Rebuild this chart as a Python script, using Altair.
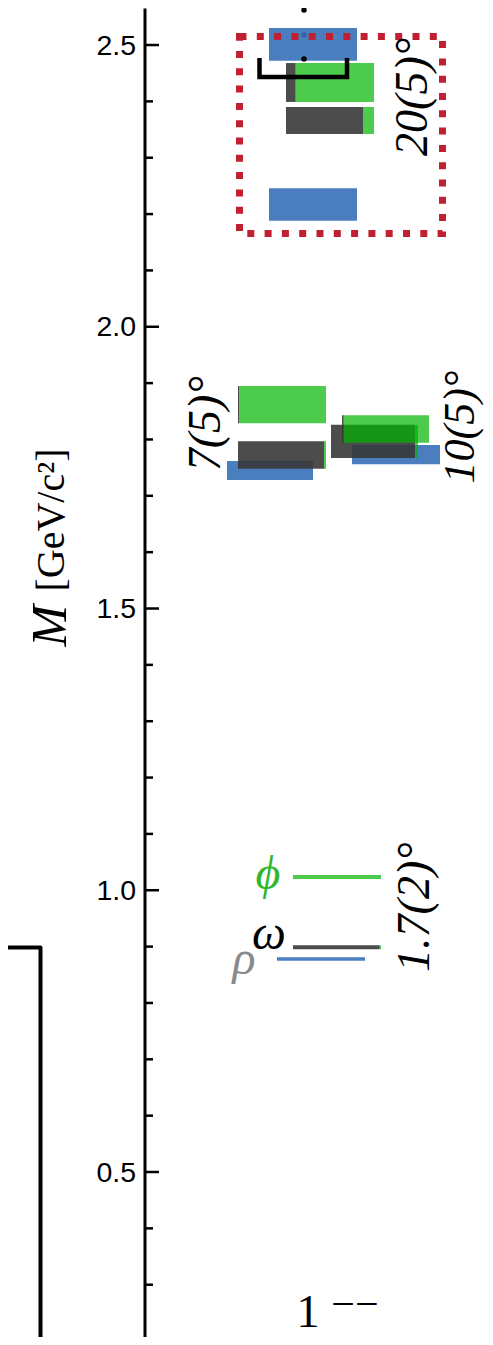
import altair as alt
import pandas as pd

# ---------------- axis / layout data ----------------
M_DOMAIN = [0.2072, 2.5657]          # visible mass range, GeV/c^2
X_DOMAIN = [144.5, 485.0]            # horizontal layout coordinate (axis at left edge)
MAJOR = [0.5, 1.0, 1.5, 2.0, 2.5]
MINOR = [0.3, 0.4, 0.6, 0.7, 0.8, 0.9, 1.1, 1.2, 1.3, 1.4,
         1.6, 1.7, 1.8, 1.9, 2.1, 2.2, 2.3, 2.4]

# isovector (rho-like) excited states: mass bands
iv_x0 = [269, 269, 227, 352]
iv_x1 = [357, 357, 313, 440]
iv_lo = [2.472, 2.188, 1.728, 1.756]
iv_hi = [2.530, 2.246, 1.762, 1.790]

# isoscalar excited states: mass bands + light-quark (omega-like) fraction
is_x0 = [286, 286, 238, 238, 331, 342]
is_x1 = [374, 374, 326, 326, 418, 429]
is_lo = [2.399, 2.342, 1.829, 1.748, 1.767, 1.794]
is_hi = [2.468, 2.390, 1.895, 1.797, 1.826, 1.843]
is_light = [0.11, 0.875, 0.015, 0.977, 0.966, 0.02]

# ground states: rho (isovector), omega and phi (isoscalar)
rho_x0, rho_x1, rho_m = [277], [365], [0.878]
gs_x0 = [293, 293]
gs_x1 = [381, 381]
gs_m = [0.899, 1.0235]
gs_light = [0.985, 0.0]

# highlighted region, bracket and dots
box_x0, box_x1, box_lo, box_hi = [239.5], [442.5], [2.1655], [2.5151]
brk_x = [259.5, 259.5, 347.0, 347.0]
brk_m = [2.4769, 2.4432, 2.4432, 2.4769]
dot_x = [304, 304, 304]
dot_m = [2.562, 2.518, 2.475]
dot_front = [True, False, True]
lbrk_x = [-20, 40.5, 40.5]
lbrk_m = [0.8984, 0.8984, 0.10]

# labels
ang_text = ["20(5)°", "7(5)°", "10(5)°", "1.7(2)°"]
ang_x = [413, 206, 461, 415]
ang_m = [2.408, 1.828, 1.822, 0.970]
ang_size = [46, 46, 44, 46]
name_text = ["ϕ", "ω", "ρ"]
name_x = [268, 269, 244]
name_m = [1.027, 0.921, 0.876]
name_color = ["#2fb82f", "#000000", "#8a8a8a"]

BLUE, GRAY, GREEN = "#3670b8", "#383838", "#00b500"
SERIF = "Liberation Serif"

xs = alt.Scale(domain=X_DOMAIN, nice=False, zero=False)
ys = alt.Scale(domain=M_DOMAIN, nice=False, zero=False)

# ---------------- tables ----------------
iv = pd.DataFrame({"x0": iv_x0, "x1": iv_x1, "lo": iv_lo, "hi": iv_hi})
rows_l, rows_s = [], []
for x0, x1, lo, hi, f in zip(is_x0, is_x1, is_lo, is_hi, is_light):
    xm = x0 + f * (x1 - x0)
    rows_l.append({"x0": x0, "x1": xm, "lo": lo, "hi": hi})
    rows_s.append({"x0": xm, "x1": x1, "lo": lo, "hi": hi})
isl = pd.DataFrame(rows_l)
iss = pd.DataFrame(rows_s)

gl, gsr = [], []
for x0, x1, m, f in zip(gs_x0, gs_x1, gs_m, gs_light):
    xm = x0 + f * (x1 - x0)
    if f > 0:
        gl.append({"x0": x0, "x1": xm, "m": m})
    if f < 1:
        gsr.append({"x0": xm, "x1": x1, "m": m})
gsl = pd.DataFrame(gl)
gss = pd.DataFrame(gsr)
rho = pd.DataFrame({"x0": rho_x0, "x1": rho_x1, "m": rho_m})

box = pd.DataFrame({"x0": box_x0, "x1": box_x1, "lo": box_lo, "hi": box_hi})
brk = pd.DataFrame({"x": brk_x, "m": brk_m, "i": range(len(brk_x))})
lbrk = pd.DataFrame({"x": lbrk_x, "m": lbrk_m, "i": range(len(lbrk_x))})
dots = pd.DataFrame({"x": dot_x, "m": dot_m, "front": dot_front})
ticks_major = pd.DataFrame({"m": MAJOR})
ticks_minor = pd.DataFrame({"m": MINOR})
angles = pd.DataFrame({"t": ang_text, "x": ang_x, "m": ang_m, "s": ang_size})
names = pd.DataFrame({"t": name_text, "x": name_x, "m": name_m, "c": name_color})

yaxis = alt.Axis(values=MAJOR, format=".1f", ticks=False, grid=False,
                 domain=True, domainColor="black", domainWidth=3,
                 labelFont="Liberation Sans", labelFontSize=28.5,
                 labelColor="black", labelPadding=9, title=None)


def X(f):
    return alt.X(f, type="quantitative", scale=xs, axis=None)


def Y(f):
    return alt.Y(f, type="quantitative", scale=ys, axis=yaxis, title=None)


layers = []
# left bracket (neighbouring panel)
layers.append(alt.Chart(lbrk).mark_line(color="black", strokeWidth=4, strokeJoin="round")
              .encode(x=X("x"), y=Y("m"), order="i:Q"))
# dots behind bars
layers.append(alt.Chart(dots[~dots["front"]]).mark_circle(color="black", opacity=1, size=30)
              .encode(x=X("x"), y=Y("m")))
# bars
layers.append(alt.Chart(iv).mark_rect(color=BLUE, opacity=0.9)
              .encode(x=X("x0"), x2="x1", y=Y("lo"), y2="hi"))
layers.append(alt.Chart(isl).mark_rect(color=GRAY, opacity=0.9)
              .encode(x=X("x0"), x2="x1", y=Y("lo"), y2="hi"))
layers.append(alt.Chart(iss).mark_rect(color=GREEN, opacity=0.7)
              .encode(x=X("x0"), x2="x1", y=Y("lo"), y2="hi"))
# ground state lines
layers.append(alt.Chart(rho).mark_rule(color=BLUE, opacity=0.9, strokeWidth=3.5)
              .encode(x=X("x0"), x2="x1", y=Y("m")))
layers.append(alt.Chart(gsl).mark_rule(color=GRAY, opacity=0.9, strokeWidth=4)
              .encode(x=X("x0"), x2="x1", y=Y("m")))
layers.append(alt.Chart(gss).mark_rule(color=GREEN, opacity=0.7, strokeWidth=4)
              .encode(x=X("x0"), x2="x1", y=Y("m")))
# red dotted box (on top of the bars)
layers.append(alt.Chart(box).mark_rect(fillOpacity=0, stroke="#c0202f", strokeWidth=7,
                                       strokeDash=[7, 10.3])
              .encode(x=X("x0"), x2="x1", y=Y("lo"), y2="hi"))
# bracket + dots in front
layers.append(alt.Chart(brk).mark_line(color="black", strokeWidth=4.5, strokeJoin="miter")
              .encode(x=X("x"), y=Y("m"), order="i:Q"))
layers.append(alt.Chart(dots[dots["front"]]).mark_circle(color="black", opacity=1, size=30)
              .encode(x=X("x"), y=Y("m")))
# inward ticks
layers.append(alt.Chart(ticks_major).mark_rule(color="black", strokeWidth=2.5)
              .encode(x=alt.value(0), x2=alt.value(14.5), y=Y("m")))
layers.append(alt.Chart(ticks_minor).mark_rule(color="black", strokeWidth=2.5)
              .encode(x=alt.value(0), x2=alt.value(8.5), y=Y("m")))
# mixing angle labels
layers.append(alt.Chart(angles).mark_text(font=SERIF, fontStyle="italic",
                                          angle=270, align="center", baseline="middle",
                                          color="black")
              .encode(x=X("x"), y=Y("m"), text="t:N", size=alt.Size("s:Q", scale=None)))
# particle names
layers.append(alt.Chart(names).mark_text(font=SERIF, fontStyle="italic", fontSize=48,
                                         align="center", baseline="middle")
              .encode(x=X("x"), y=Y("m"), text="t:N", color=alt.Color("c:N", scale=None)))
# axis title
title_df = pd.DataFrame({"t": ["M"], "x": [51], "m": [1.469]})
title_df2 = pd.DataFrame({"t": ["[GeV/c²]"], "x": [52], "m": [1.657]})
layers.append(alt.Chart(title_df).mark_text(font=SERIF, fontStyle="italic", fontSize=50,
                                            angle=270, align="center", baseline="middle",
                                            color="black")
              .encode(x=X("x"), y=Y("m"), text="t:N"))
layers.append(alt.Chart(title_df2).mark_text(font=SERIF, fontSize=40, angle=270,
                                             align="center", baseline="middle",
                                             color="black")
              .encode(x=X("x"), y=Y("m"), text="t:N"))
# J^PC label
jpc1 = pd.DataFrame({"t": ["1"], "x": [308], "m": [0.2249]})
jpc2 = pd.DataFrame({"t": ["−−"], "x": [355], "m": [0.2640]})
layers.append(alt.Chart(jpc1).mark_text(font=SERIF, fontSize=46, align="center",
                                        baseline="alphabetic", color="black")
              .encode(x=X("x"), y=Y("m"), text="t:N"))
layers.append(alt.Chart(jpc2).mark_text(font=SERIF, fontSize=42, align="center",
                                        baseline="middle", color="black")
              .encode(x=X("x"), y=Y("m"), text="t:N"))

chart = (alt.layer(*layers)
         .properties(width=340.5, height=1329,
                     autosize=alt.AutoSizeParams(type="none"),
                     padding={"left": 136.5, "top": 0, "right": 0, "bottom": 0})
         .configure_view(stroke=None))

chart.save("out.html", embed_options={"renderer": "svg", "actions": False})
